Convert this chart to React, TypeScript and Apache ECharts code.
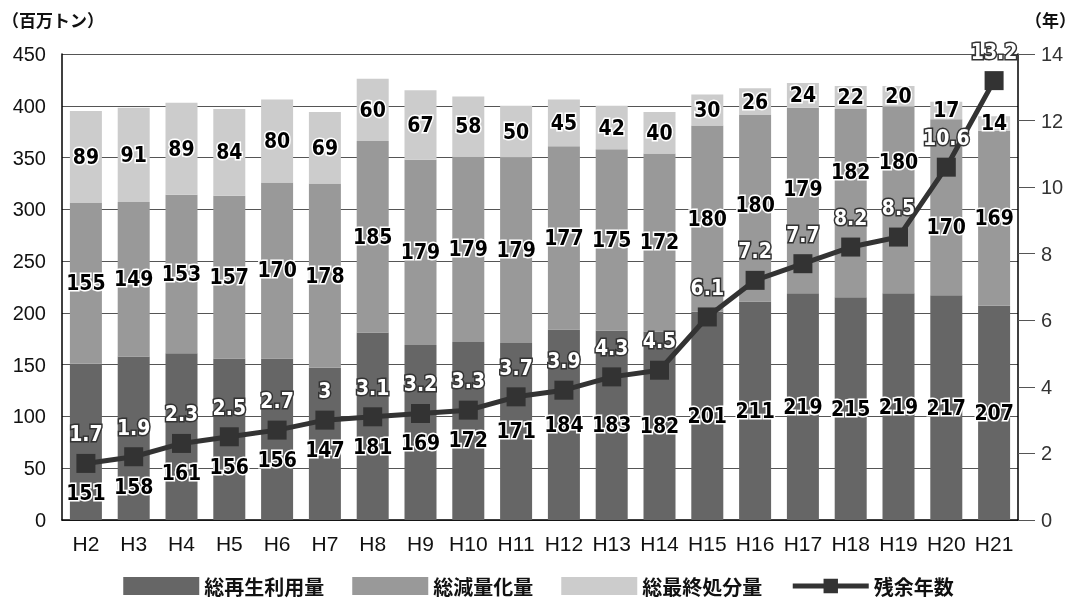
import React, { useEffect, useRef } from "react";
import * as echarts from "echarts";

const categories = ["H2","H3","H4","H5","H6","H7","H8","H9","H10","H11","H12","H13","H14","H15","H16","H17","H18","H19","H20","H21"];
const recycled = [151,158,161,156,156,147,181,169,172,171,184,183,182,201,211,219,215,219,217,207];
const reduced = [155,149,153,157,170,178,185,179,179,179,177,175,172,180,180,179,182,180,170,169];
const finalDisposal = [89,91,89,84,80,69,60,67,58,50,45,42,40,30,26,24,22,20,17,14];
const remainingYears = [1.7,1.9,2.3,2.5,2.7,3,3.1,3.2,3.3,3.7,3.9,4.3,4.5,6.1,7.2,7.7,8.2,8.5,10.6,13.2];
const seriesNames = ["総再生利用量", "総減量化量", "総最終処分量", "残余年数"];
const leftMax = 450;
const rightMax = 14;

const NUM_FONT = "'Liberation Sans', Arial, sans-serif";
const LBL_FONT = "'DejaVu Sans Condensed', 'Liberation Sans Narrow', 'Liberation Sans', sans-serif";
const JP_FONT = "'Noto Sans CJK JP', sans-serif";

export default function App() {
  const ref = useRef<HTMLDivElement>(null);
  useEffect(() => {
    if (!ref.current) return;
    const chart = echarts.init(ref.current, null, { renderer: "svg" });
    const barLabel = {
      show: true,
      position: "inside",
      color: "#000",
      fontFamily: LBL_FONT,
      fontSize: 21,
      fontWeight: "bold",
      textBorderColor: "#fff",
      textBorderWidth: 3,
    };
    const linePx = (rect: any, i: number, baseValue: number, bottomOffsetValue: number) => {
      const pxPerUnit = rect.height / baseValue;
      const zeroY = rect.y + rect.height + bottomOffsetValue * pxPerUnit;
      const gridH = pxPerUnit * leftMax;
      return zeroY - (remainingYears[i] / rightMax) * gridH;
    };
    chart.setOption({
      animation: false,
      textStyle: { fontFamily: NUM_FONT },
      graphic: [
        { type: "text", left: 2, top: 11, style: { text: "（百万トン）", font: `bold 17px ${JP_FONT}`, fill: "#111" } },
        { type: "text", right: 1, top: 11, style: { text: "（年）", font: `bold 17px ${JP_FONT}`, fill: "#111" } },
      ],
      legend: {
        top: 576,
        padding: 0,
        left: "center",
        itemWidth: 76,
        itemHeight: 18,
        itemGap: 28,
        data: [
          { name: seriesNames[0], icon: "rect" },
          { name: seriesNames[1], icon: "rect" },
          { name: seriesNames[2], icon: "rect" },
          { name: seriesNames[3], lineStyle: { width: 5 } },
        ],
        textStyle: { fontFamily: JP_FONT, fontSize: 20, lineHeight: 20, color: "#111", fontWeight: "bold" },
      },
      grid: { left: 62, right: 59, top: 54, bottom: 79 },
      xAxis: {
        type: "category",
        data: categories,
        axisTick: { show: false },
        axisLine: { lineStyle: { color: "#000", width: 1.5 } },
        axisLabel: { color: "#111", fontSize: 21, margin: 13, fontFamily: NUM_FONT, interval: 0 },
      },
      yAxis: [
        {
          type: "value",
          min: 0,
          max: leftMax,
          interval: 50,
          axisLine: { show: true, lineStyle: { color: "#000", width: 1.5 } },
          axisTick: { show: false },
          splitLine: { show: true, lineStyle: { color: "#555", width: 1 } },
          axisLabel: { color: "#111", fontSize: 20, margin: 16, fontFamily: NUM_FONT },
        },
        {
          type: "value",
          min: 0,
          max: rightMax,
          interval: 2,
          position: "right",
          axisLine: { show: true, lineStyle: { color: "#000", width: 1.5 } },
          axisTick: { show: true, inside: false, length: 17, lineStyle: { color: "#555" } },
          splitLine: { show: false },
          axisLabel: { color: "#333", fontSize: 20, margin: 23, fontFamily: NUM_FONT },
        },
      ],
      series: [
        {
          name: seriesNames[0],
          type: "bar",
          stack: "t",
          barWidth: 32,
          data: recycled,
          itemStyle: { color: "#666666" },
          label: barLabel,
          labelLayout: (p: any) => {
            const i = p.dataIndex;
            const r = p.rect;
            const bottom = r.y + r.height;
            const lineY = linePx(r, i, recycled[i], 0);
            const center = r.y + r.height / 2;
            const y = Math.min(bottom - 14, Math.max(center, lineY + 30));
            return { x: r.x + r.width / 2, y, align: "center", verticalAlign: "middle" };
          },
        },
        {
          name: seriesNames[1],
          type: "bar",
          stack: "t",
          barWidth: 32,
          data: reduced,
          itemStyle: { color: "#999999" },
          label: barLabel,
          labelLayout: (p: any) => {
            const i = p.dataIndex;
            const r = p.rect;
            const lineY = linePx(r, i, reduced[i], recycled[i]);
            const center = r.y + r.height / 2;
            const y = center < lineY ? Math.min(center, lineY - 75) : Math.max(center, lineY + 60);
            return { x: r.x + r.width / 2, y, align: "center", verticalAlign: "middle" };
          },
        },
        {
          name: seriesNames[2],
          type: "bar",
          stack: "t",
          barWidth: 32,
          data: finalDisposal,
          itemStyle: { color: "#cccccc" },
          label: barLabel,
        },
        {
          name: seriesNames[3],
          type: "line",
          yAxisIndex: 1,
          data: remainingYears,
          symbol: "rect",
          symbolSize: 19,
          lineStyle: { color: "#333", width: 5 },
          itemStyle: { color: "#333" },
          label: {
            show: true,
            position: "top",
            distance: 9,
            color: "#fff",
            fontSize: 21,
            fontWeight: "bold",
            fontFamily: LBL_FONT,
            textBorderColor: "#333",
            textBorderWidth: 3,
          },
          z: 5,
        },
      ],
    });
    return () => chart.dispose();
  }, []);
  return <div ref={ref} style={{ position: "fixed", left: 0, top: 0, width: 1077, height: 599 }} />;
}
